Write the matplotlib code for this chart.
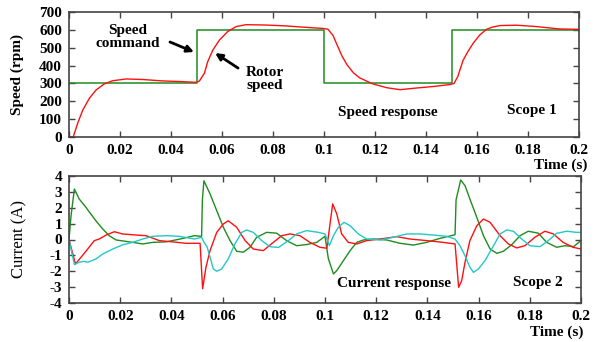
import numpy as np
import matplotlib
matplotlib.use("Agg")
import matplotlib.pyplot as plt

plt.rcParams['font.family'] = ['Liberation Serif', 'DejaVu Serif']
plt.rcParams['font.weight'] = 'bold'

# ---- Speed data ----
cmd_t = [0.0, 0.05, 0.05, 0.1, 0.1, 0.15, 0.15, 0.2]
cmd_rpm = [300, 300, 600, 600, 300, 300, 600, 600]

rotor_t = [0.0, 0.0017, 0.0034, 0.0054, 0.008, 0.0106, 0.0138, 0.0171, 0.0224, 0.0289,
           0.0367, 0.0446, 0.0498, 0.0511, 0.0531, 0.0544, 0.0564, 0.059, 0.0622, 0.0655,
           0.0694, 0.0773, 0.0851, 0.0929, 0.0995, 0.1015, 0.1035, 0.105, 0.107, 0.109,
           0.1115, 0.114, 0.119, 0.1246, 0.1298, 0.136, 0.143, 0.1495, 0.151, 0.1525,
           0.1545, 0.1565, 0.1585, 0.161, 0.1637, 0.166, 0.169, 0.1755, 0.182, 0.1925,
           0.2]
rotor_rpm = [0, 2, 77, 151, 217, 263, 297, 315, 325, 322,
             314, 310, 306, 313, 357, 422, 487, 543, 590, 618,
             629, 627, 622, 614, 608, 604, 570, 520, 455, 405,
             360, 331, 298, 276, 265, 274, 283, 294, 300, 340,
             428, 480, 525, 570, 603, 615, 624, 626, 620, 605,
             603]

# ---- Current data (phase a: green, b: red, c: cyan) ----
ia_t = [0.0, 0.0008, 0.0021, 0.004, 0.0066, 0.0074, 0.0105, 0.0132, 0.0157, 0.0184,
        0.0236, 0.0288, 0.0327, 0.0379, 0.0431, 0.049, 0.0518, 0.0521, 0.0527, 0.0551,
        0.0577, 0.0603, 0.0629, 0.0655, 0.0681, 0.0707, 0.0733, 0.0772, 0.0811, 0.085,
        0.0889, 0.0928, 0.0968, 0.1, 0.1013, 0.1033, 0.1046, 0.1072, 0.1098, 0.1124,
        0.115, 0.1189, 0.1241, 0.1293, 0.1345, 0.1397, 0.1449, 0.1508, 0.1512, 0.153,
        0.1547, 0.1566, 0.1593, 0.1619, 0.1645, 0.1671, 0.1697, 0.1729, 0.1762, 0.1794,
        0.1833, 0.1866, 0.1905, 0.1938, 0.1971, 0.2]
ia = [0.0, 1.5, 3.18, 2.55, 2.03, 1.85, 1.18, 0.66, 0.24, -0.03,
      -0.15, -0.28, -0.18, -0.15, 0.02, 0.24, 0.2, 2.5, 3.7, 2.87,
      1.82, 0.77, -0.07, -0.74, -0.8, -0.49, 0.14, 0.45, 0.4, -0.07,
      -0.39, -0.32, -0.18, 0.2, -1.2, -2.17, -1.96, -1.33, -0.7, -0.18,
      -0.03, 0.03, -0.03, -0.24, -0.35, -0.18, 0.07, 0.3, 2.5, 3.75,
      3.39, 2.55, 1.39, 0.24, -0.6, -0.87, -0.74, -0.33, 0.24, 0.52,
      0.4, -0.18, -0.49, -0.39, -0.45, -0.07]

ib_t = [0.0, 0.0025, 0.0047, 0.0073, 0.0099, 0.0118, 0.0145, 0.0177, 0.0209, 0.0262,
        0.0301, 0.0353, 0.0405, 0.0457, 0.0512, 0.0522, 0.0535, 0.0551, 0.0577, 0.0603,
        0.0622, 0.0655, 0.0688, 0.072, 0.0759, 0.0798, 0.0831, 0.0863, 0.0902, 0.0941,
        0.098, 0.1007, 0.103, 0.1046, 0.1065, 0.1091, 0.1124, 0.1163, 0.1215, 0.128,
        0.1332, 0.1397, 0.1462, 0.1508, 0.1522, 0.1534, 0.1547, 0.1566, 0.1593, 0.1619,
        0.1645, 0.1684, 0.1716, 0.1749, 0.1781, 0.182, 0.1859, 0.1892, 0.193, 0.1969,
        0.2]
ib = [0.0, -1.54, -1.12, -0.6, -0.07, 0.03, 0.28, 0.49, 0.35, 0.28,
      0.24, -0.07, -0.15, -0.24, -0.24, -3.1, -1.75, -0.7, 0.45, 0.98,
      1.18, 0.77, -0.07, -0.6, -0.7, -0.18, 0.24, 0.35, 0.24, -0.18,
      -0.49, -0.55, 2.24, 1.61, 0.35, -0.18, -0.28, -0.07, 0.03, 0.18,
      0.03, -0.07, -0.18, -0.28, -3.01, -2.59, -1.43, -0.07, 0.87, 1.29,
      1.08, 0.24, -0.28, -0.53, -0.39, 0.14, 0.52, 0.35, -0.18, -0.49,
      -0.6]

ic_t = [0.0, 0.0021, 0.004, 0.0057, 0.0074, 0.0105, 0.0132, 0.0171, 0.021, 0.0249,
        0.0288, 0.0327, 0.0379, 0.0431, 0.049, 0.0518, 0.0525, 0.054, 0.0551, 0.0564,
        0.0577, 0.0596, 0.0622, 0.0648, 0.0675, 0.0694, 0.072, 0.0753, 0.0785, 0.0818,
        0.0857, 0.0889, 0.0928, 0.0974, 0.1, 0.1017, 0.1033, 0.1052, 0.1074, 0.1098,
        0.113, 0.1163, 0.1215, 0.1267, 0.1319, 0.1371, 0.1423, 0.1475, 0.1508, 0.1527,
        0.1547, 0.1566, 0.158, 0.1599, 0.1625, 0.1651, 0.1684, 0.171, 0.1736, 0.1768,
        0.1801, 0.184, 0.1872, 0.1905, 0.1944, 0.1983, 0.2]
ic = [0.0, -1.58, -1.43, -1.38, -1.43, -1.23, -0.91, -0.6, -0.33, -0.18,
      0.03, 0.2, 0.24, 0.2, 0.03, 0.14, -0.1, -0.49, -1.12, -1.86,
      -2.0, -1.86, -1.23, -0.28, 0.45, 0.6, 0.45, -0.07, -0.45, -0.5,
      -0.07, 0.35, 0.56, 0.45, 0.35, -0.39, 0.24, 0.77, 1.08, 0.87,
      0.35, 0.03, -0.03, 0.14, 0.35, 0.35, 0.28, 0.2, 0.03, -0.39,
      -1.02, -1.75, -2.07, -1.86, -1.33, -0.6, 0.35, 0.6, 0.52, 0.03,
      -0.39, -0.45, -0.07, 0.39, 0.52, 0.45, 0.45]

xticks = [0, 0.02, 0.04, 0.06, 0.08, 0.1, 0.12, 0.14, 0.16, 0.18, 0.2]
xticklabels = ['0', '0.02', '0.04', '0.06', '0.08', '0.1', '0.12', '0.14', '0.16', '0.18', '0.2']
speed_ticks = [0, 100, 200, 300, 400, 500, 600, 700]
current_ticks = [-4, -3, -2, -1, 0, 1, 2, 3, 4]

GREEN = '#1f8c1f'
RED = '#ff1010'
CYAN = '#22c8c8'
FS = 11

W, H = 603, 342
fig = plt.figure(figsize=(W / 100, H / 100), dpi=100)
ax1 = fig.add_axes([69 / W, 1 - 137 / H, (579 - 69) / W, (137 - 12) / H])
ax2 = fig.add_axes([69 / W, 1 - 303 / H, (581 - 69) / W, (303 - 176) / H])

def style(ax):
    for s in ax.spines.values():
        s.set_color('#444444')
        s.set_linewidth(1.2)
    ax.tick_params(direction='in', top=True, right=True, length=4, width=1,
                   color='#444444', labelsize=FS, pad=5)
    ax.set_xlim(0, 0.2)
    ax.set_xticks(xticks)
    ax.set_xticklabels(xticklabels, fontweight='bold')

ax1.plot(cmd_t, cmd_rpm, color=GREEN, lw=1.1)
ax1.plot(rotor_t, rotor_rpm, color=RED, lw=1.0)
ax1.set_ylim(0, 700)
ax1.set_yticks(speed_ticks)
style(ax1)
ax1.set_yticklabels([str(v) for v in speed_ticks], fontweight='bold')
ax1.set_ylabel('Speed (rpm)', fontsize=FS, fontweight='bold')
ax1.yaxis.set_label_coords(-0.088, 0.5)

ax2.plot(ia_t, ia, color=GREEN, lw=1.0)
ax2.plot(ib_t, ib, color=RED, lw=1.0)
ax2.plot(ic_t, ic, color=CYAN, lw=1.0)
ax2.set_ylim(-4, 4)
ax2.set_yticks(current_ticks)
style(ax2)
ax2.set_yticklabels([str(v) for v in current_ticks], fontweight='bold')
ax2.set_ylabel('Current (A)', fontsize=FS + 1, fontweight='normal')
ax2.yaxis.set_label_coords(-0.082, 0.5)

fig.text(561 / W, 1 - 165 / H, 'Time (s)', ha='center', va='center', fontsize=FS, fontweight='bold')
fig.text(557 / W, 1 - 332 / H, 'Time (s)', ha='center', va='center', fontsize=FS, fontweight='bold')

# annotations
ax1.text(0.0231, 560, 'Speed\ncommand', ha='center', va='center', fontsize=FS,
         fontweight='bold', linespacing=1.05)
ax1.annotate('', xy=(0.049, 476), xytext=(0.0396, 532),
             arrowprops=dict(arrowstyle='-|>', color='black', lw=2.0, shrinkA=0, shrinkB=0,
                             mutation_scale=10))
ax1.text(0.0769, 325, 'Rotor\nspeed', ha='center', va='center', fontsize=FS,
         fontweight='bold', linespacing=1.05)
ax1.annotate('', xy=(0.0573, 470), xytext=(0.0663, 386),
             arrowprops=dict(arrowstyle='-|>', color='black', lw=2.0, shrinkA=0, shrinkB=0,
                             mutation_scale=10))
ax1.text(0.1249, 140, 'Speed response', ha='center', va='center', fontsize=FS, fontweight='bold')
ax1.text(0.1816, 151, 'Scope 1', ha='center', va='center', fontsize=FS, fontweight='bold')
ax2.text(0.127, -2.8, 'Current response', ha='center', va='center', fontsize=FS, fontweight='bold')
ax2.text(0.1832, -2.74, 'Scope 2', ha='center', va='center', fontsize=FS, fontweight='bold')

fig.savefig('out.png', dpi=100)
